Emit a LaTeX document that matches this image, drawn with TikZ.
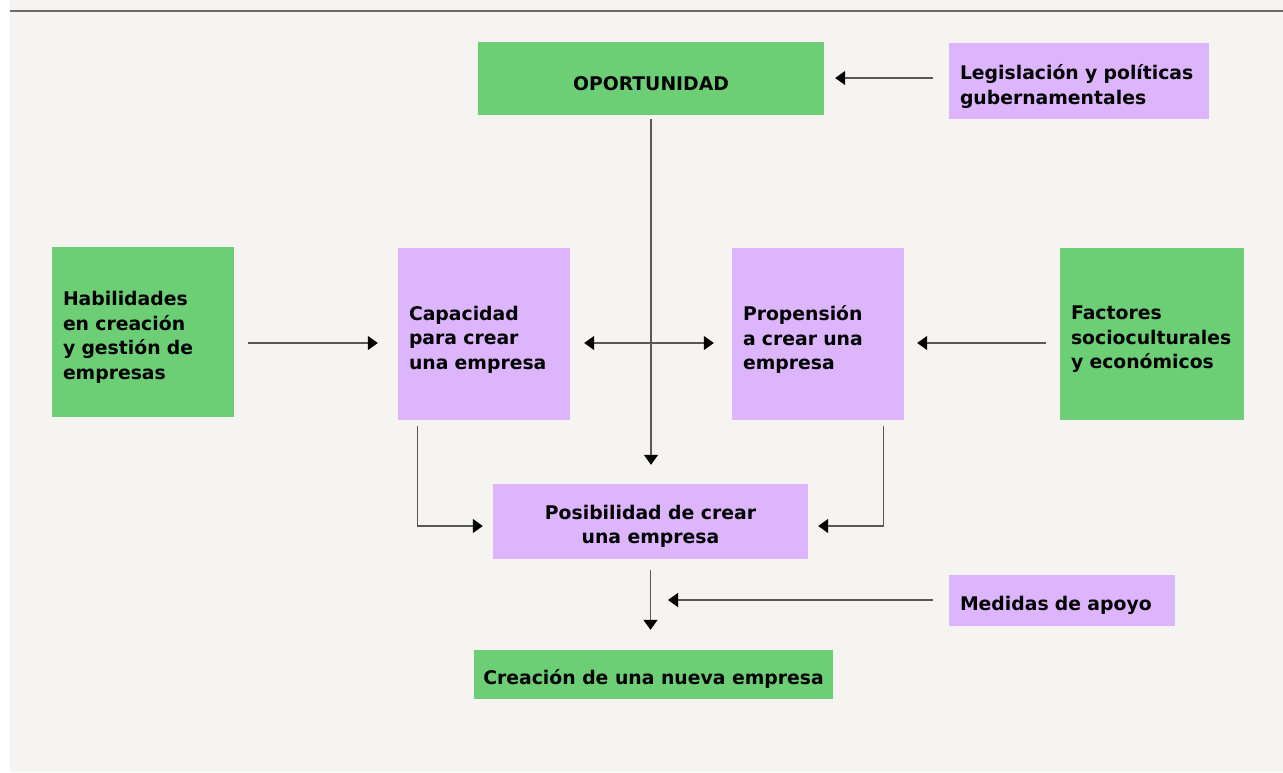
\documentclass[tikz,border=0pt]{standalone}
\usepackage{fontspec}
\setmainfont{DejaVu Sans}
\usetikzlibrary{arrows.meta,calc}
\definecolor{bg}{HTML}{F5F4F0}
\definecolor{grn}{HTML}{6CCF76}
\definecolor{prp}{HTML}{DCB5FD}
\definecolor{ln}{HTML}{585858}
\definecolor{rulec}{HTML}{6A6A66}
\tikzset{
  box/.style={rectangle, inner sep=0pt},
  gbox/.style={box, fill=grn},
  pbox/.style={box, fill=prp},
  tx/.style={inner sep=0pt, font=\fontsize{18.8}{24.5}\selectfont\bfseries, text=black},
  arr/.style={draw=ln, line width=1.2pt, -{Triangle[length=10pt,width=14pt,fill=black,color=black]}},
  darr/.style={draw=ln, line width=1.2pt, {Triangle[length=10pt,width=14pt,fill=black,color=black]}-{Triangle[length=10pt,width=14pt,fill=black,color=black]}},
}
\begin{document}
\begin{tikzpicture}[x=1pt,y=1pt]
\useasboundingbox (0,0) rectangle (1283,-772);
\fill[white] (0,0) rectangle (1283,-772);
\fill[bg] (10,0) rectangle (1283,-772);
\draw[rulec, line width=2pt] (10,-10.5) -- (1283,-10.5);

% boxes
\node[gbox, minimum width=346pt, minimum height=73pt] (opp) at (651,-78.5) {};
\node[pbox, minimum width=260pt, minimum height=76pt] (leg) at (1079,-81) {};
\node[gbox, minimum width=182pt, minimum height=170pt] (hab) at (143,-332) {};
\node[pbox, minimum width=172pt, minimum height=172pt] (cap) at (484,-334) {};
\node[pbox, minimum width=172pt, minimum height=172pt] (pro) at (818,-334) {};
\node[gbox, minimum width=184pt, minimum height=172pt] (fac) at (1152,-334) {};
\node[pbox, minimum width=315pt, minimum height=75pt] (pos) at (650.5,-521.5) {};
\node[pbox, minimum width=226pt, minimum height=51pt] (med) at (1062,-600.5) {};
\node[gbox, minimum width=359pt, minimum height=49pt] (cre) at (653.5,-674.5) {};

% texts
\node[tx, align=center] (oppT) at ([yshift=-5.5pt]opp.center) {OPORTUNIDAD};
\node[tx, text width=238pt, align=left] (legT) at ([yshift=-5.5pt]leg.center) {Legislación y políticas\\gubernamentales};
\node[tx, text width=160pt, align=left] (habT) at ([yshift=-5.5pt]hab.center) {Habilidades\\en creación\\y gestión de\\empresas};
\node[tx, text width=150pt, align=left] (capT) at ([yshift=-5.5pt]cap.center) {Capacidad\\para crear\\una empresa};
\node[tx, text width=150pt, align=left] (proT) at ([yshift=-5.5pt]pro.center) {Propensión\\a crear una\\empresa};
\node[tx, text width=162pt, align=left] (facT) at ([yshift=-5.5pt]fac.center) {Factores\\socioculturales\\y económicos};
\node[tx, align=center] (posT) at ([yshift=-5pt]pos.center) {Posibilidad de crear\\una empresa};
\node[tx, text width=204pt, align=left] (medT) at ([yshift=-4.5pt]med.center) {Medidas de apoyo};
\node[tx, align=center] (creT) at ([yshift=-4pt]cre.center) {Creación de una nueva empresa};

\coordinate (medtip) at (668,-600);

% connectors
\draw[arr, shorten <=16pt, shorten >=11pt] (leg.west |- 0,-78) -- (opp.east |- 0,-78);
\draw[arr, shorten <=14pt, shorten >=20pt] (hab.east |- 0,-343) -- (cap.west |- 0,-343);
\draw[darr, shorten <=14pt, shorten >=18pt] (cap.east |- 0,-343) -- (pro.west |- 0,-343);
\draw[arr, shorten <=14pt, shorten >=13pt] (fac.west |- 0,-343) -- (pro.east |- 0,-343);
\draw[arr, shorten <=4pt, shorten >=19pt] (opp.south) -- (opp.south |- pos.north);
\draw[arr, shorten >=10pt] ($(cap.south west)+(20,-6)$) |- ($(pos.west)+(0,-4.5)$);
\draw[arr, shorten >=10pt] ($(pro.south east)+(-21,-6)$) |- ($(pos.east)+(0,-4.5)$);
\draw[arr, shorten <=11pt, shorten >=20pt] (pos.south) -- (pos.south |- cre.north);
\draw[arr, shorten <=16pt] (med.west |- medtip) -- (medtip);
\end{tikzpicture}
\end{document}
